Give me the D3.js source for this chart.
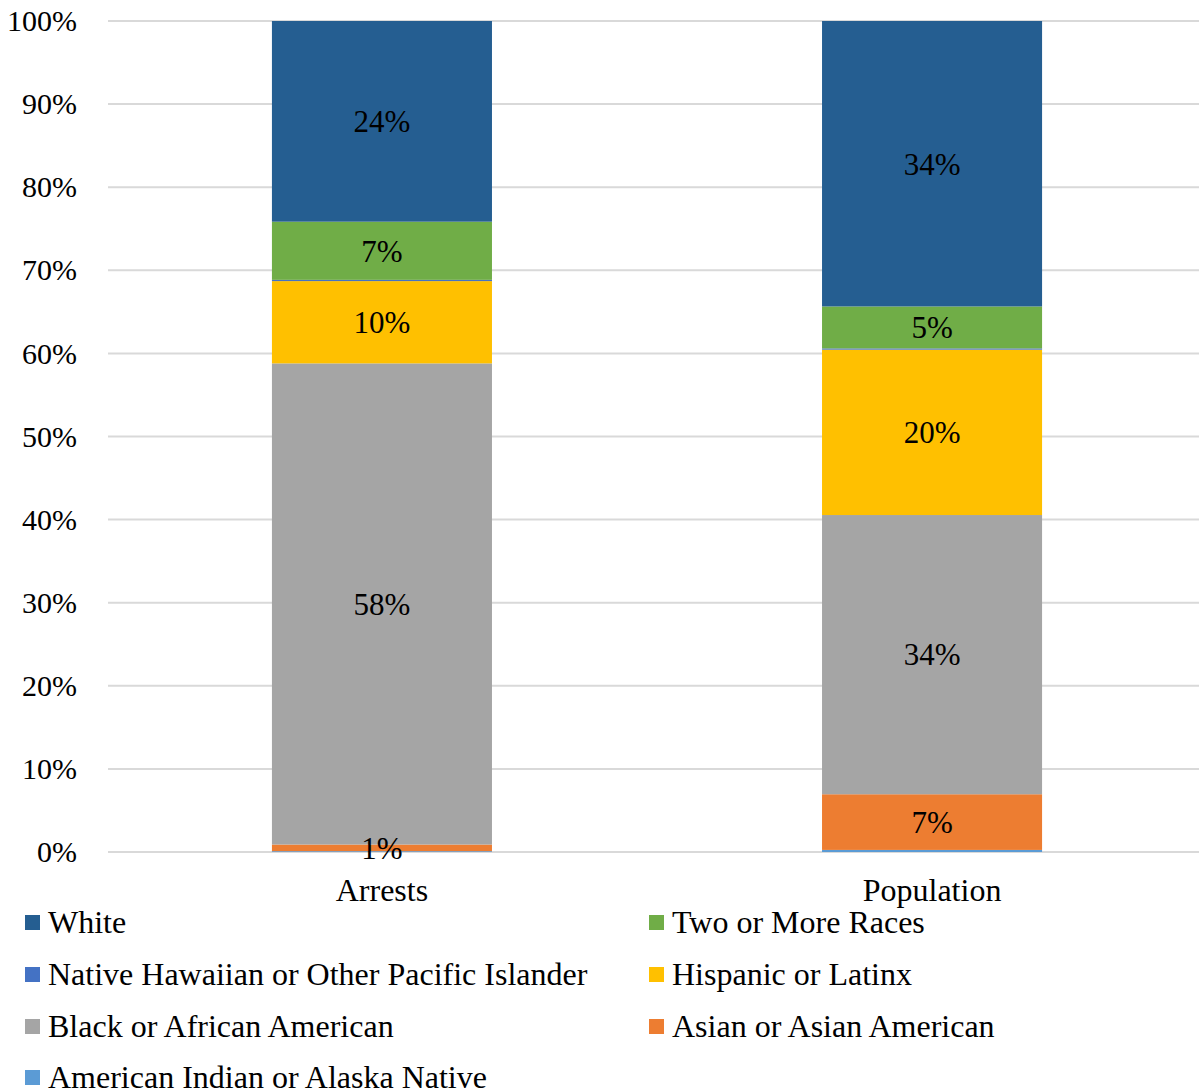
<!DOCTYPE html>
<html>
<head>
<meta charset="utf-8">
<script src="https://cdn.jsdelivr.net/npm/d3@7"></script>
<style>
  html, body { margin: 0; padding: 0; background: #fff; }
  svg { display: block; }
  svg text { font-family: "Liberation Serif", "Times New Roman", Tinos, "DejaVu Serif", serif; }
</style>
</head>
<body>
<svg id="chart" width="1199" height="1091"></svg>
<script>
// Share of each group, percent, stacked bottom-to-top
const groups = ["Arrests", "Population"];
const seriesNames = [
  "American Indian or Alaska Native",
  "Asian or Asian American",
  "Black or African American",
  "Hispanic or Latinx",
  "Native Hawaiian or Other Pacific Islander",
  "Two or More Races",
  "White"
];
const arrestsValues    = [0.1, 0.8, 57.9, 9.9, 0.15, 7.0, 24.15];
const populationValues = [0.25, 6.7, 33.6, 19.9, 0.15, 5.05, 34.35];
const seriesColors = ["#5b9bd5", "#ed7d31", "#a5a5a5", "#ffc000", "#4472c4", "#70ad47", "#255e91"];
const labelledSeries = ["Asian or Asian American", "Black or African American", "Hispanic or Latinx", "Two or More Races", "White"];
const tickValues = [0, 10, 20, 30, 40, 50, 60, 70, 80, 90, 100];
// Legend reading order (two columns, row by row)
const legendOrder = [
  "White", "Two or More Races",
  "Native Hawaiian or Other Pacific Islander", "Hispanic or Latinx",
  "Black or African American", "Asian or Asian American",
  "American Indian or Alaska Native"
];

const rows = groups.map((g, i) => {
  const vals = i === 0 ? arrestsValues : populationValues;
  const r = { group: g };
  seriesNames.forEach((s, j) => r[s] = vals[j]);
  return r;
});

const svg = d3.select("#chart");
const tickFont = 30, valueFont = 31, textFont = 32;
const plot = { left: 108, right: 1199, top: 21, bottom: 852 };

const x = d3.scaleBand().domain(groups).range([plot.left, 1206]).paddingInner(0.6).paddingOuter(0.298);
const y = d3.scaleLinear().domain([0, 100]).range([plot.bottom, plot.top]);
const color = d3.scaleOrdinal().domain(seriesNames).range(seriesColors);

// gridlines
svg.append("g").selectAll("line").data(tickValues).join("line")
  .attr("x1", plot.left).attr("x2", plot.right)
  .attr("y1", d => y(d)).attr("y2", d => y(d))
  .attr("stroke", "#d9d9d9").attr("stroke-width", 2);

// y axis labels
const yAxis = d3.axisLeft(y).tickValues(tickValues).tickFormat(d => d + "%").tickSize(0).tickPadding(0);
const yg = svg.append("g").attr("transform", "translate(77,0)").call(yAxis);
yg.select(".domain").remove();
yg.attr("font-family", null).attr("font-size", null);
yg.selectAll("text").attr("font-size", tickFont).attr("fill", "#000").attr("dy", "0.32em");

// stacked bars
const stacked = d3.stack().keys(seriesNames)(rows);
const layers = svg.append("g").selectAll("g").data(stacked).join("g").attr("fill", d => color(d.key));
layers.selectAll("rect").data(d => d).join("rect")
  .attr("x", d => x(d.data.group))
  .attr("width", x.bandwidth())
  .attr("y", d => y(d[1]))
  .attr("height", d => y(d[0]) - y(d[1]));

// value labels
const labels = svg.append("g");
stacked.filter(s => labelledSeries.includes(s.key)).forEach(s => {
  s.forEach(d => {
    const v = d[1] - d[0];
    labels.append("text")
      .attr("x", x(d.data.group) + x.bandwidth() / 2)
      .attr("y", y((d[0] + d[1]) / 2))
      .attr("dy", "0.35em")
      .attr("text-anchor", "middle")
      .attr("font-size", valueFont)
      .attr("fill", "#000")
      .text(Math.round(v) + "%");
  });
});

// category axis labels
const xAxis = d3.axisBottom(x).tickSize(0).tickPadding(0);
const xg = svg.append("g").attr("transform", `translate(0,${plot.bottom + 38})`).call(xAxis);
xg.select(".domain").remove();
xg.attr("font-family", null).attr("font-size", null);
xg.selectAll("text").attr("font-size", textFont).attr("fill", "#000").attr("dy", "0.35em");

// legend
const legend = svg.append("g");
const colX = [25, 649];
const rowY = [922, 974, 1026, 1077];
legendOrder.forEach((name, i) => {
  const cx = colX[i % 2], cy = rowY[Math.floor(i / 2)];
  const item = legend.append("g").attr("transform", `translate(${cx},${cy})`);
  item.append("rect").attr("x", 0).attr("y", -7).attr("width", 15).attr("height", 15).attr("fill", color(name));
  item.append("text").attr("x", 23).attr("y", 0).attr("dy", "0.35em")
    .attr("font-size", textFont).attr("fill", "#000").text(name);
});
</script>
</body>
</html>
